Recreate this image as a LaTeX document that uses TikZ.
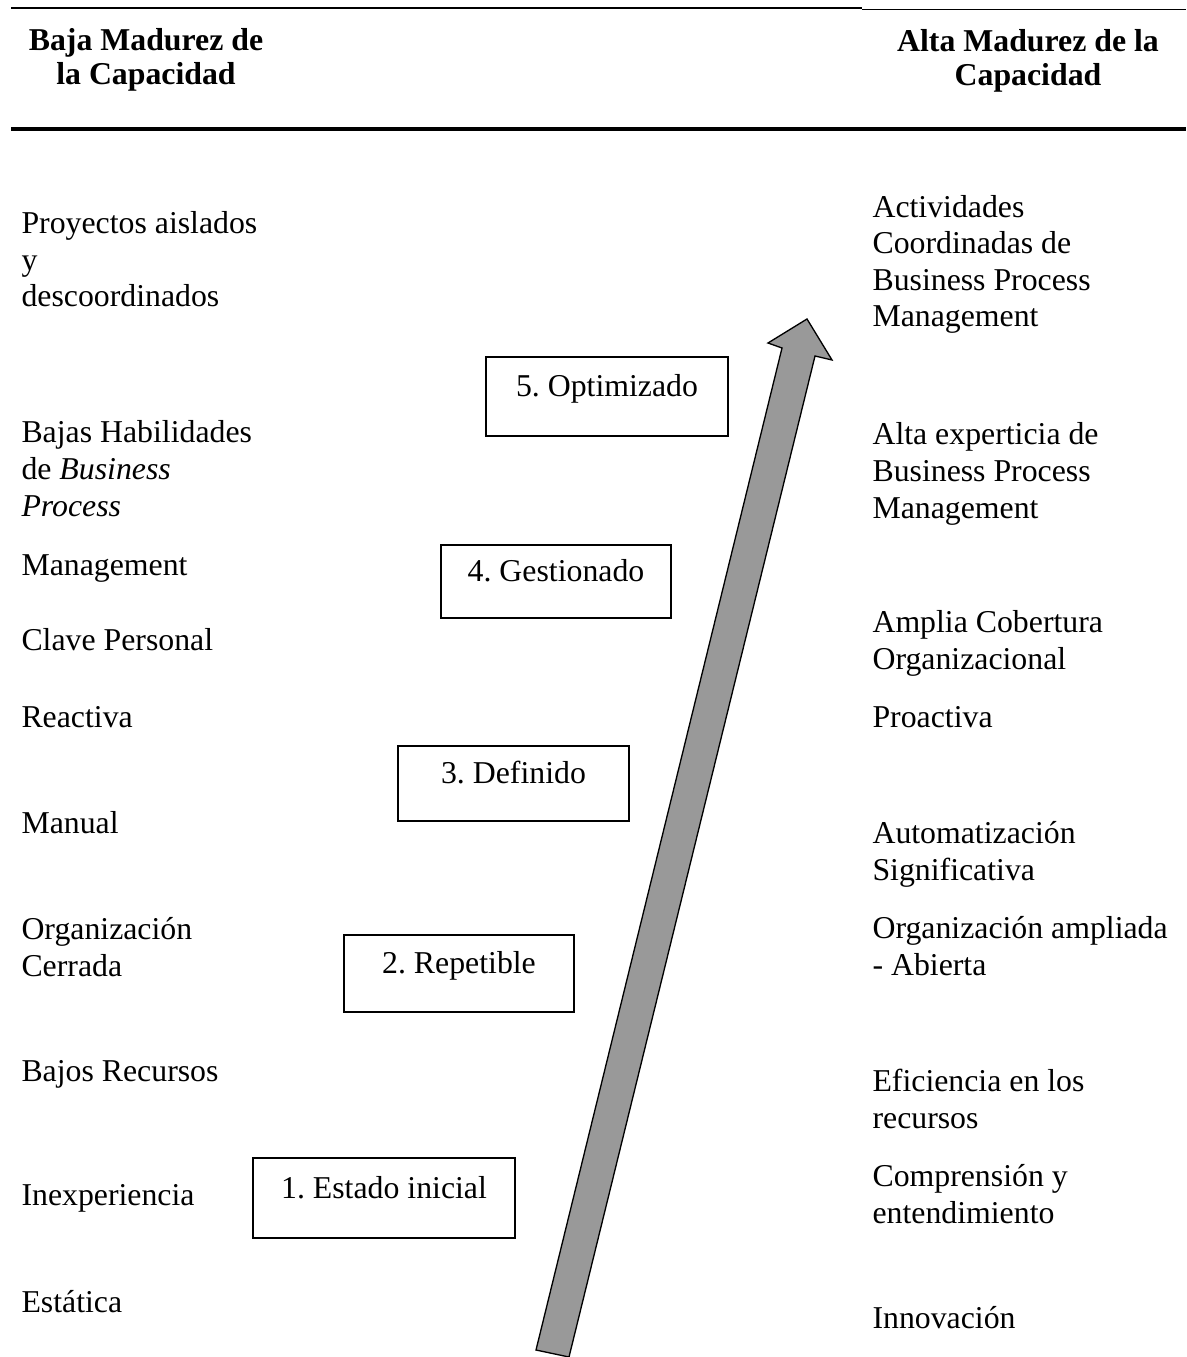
\documentclass[tikz,border=0pt]{standalone}
\usepackage{fontspec}
\setmainfont{Liberation Serif}
\frenchspacing
\begin{document}
\begin{tikzpicture}[x=0.3774pt, y=-0.3774pt,
    every node/.style={font=\fontsize{12}{13.8}\selectfont},
    item/.style={anchor=base west, align=left, inner sep=0pt},
    hdr/.style={anchor=base, align=center, inner sep=0pt,
      font=\fontsize{12}{13.2}\selectfont\bfseries},
    nivel/.style={draw, line width=0.8pt, inner sep=0pt,
      text height=8.5pt, text depth=8.5pt}]
    \useasboundingbox (0,0) rectangle (1186,1357);

    % Header rules
    \draw[line width=0.75pt] (11,7.7) -- (862,7.7);
    \draw[line width=0.65pt] (862,9.5) -- (1186,9.5);
    \draw[line width=1.15pt] (11,129) -- (1186,129);

    % Headers (base = last line)
    \node[hdr] (baja) at (146,85) {Baja Madurez de\\la Capacidad};
    \node[hdr] (alta) at (1028,86) {Alta Madurez de la\\Capacidad};

    % Low maturity traits
    \node[item] (l1) at (21,307) {Proyectos aislados\\y\\descoordinados};
    \node[item] (l2) at (21,516) {Bajas Habilidades\\de \textit{Business}\\\textit{Process}};
    \node[item] (l3) at (21,575) {Management};
    \node[item] (l4) at (21,650) {Clave Personal};
    \node[item] (l5) at (21,727) {Reactiva};
    \node[item] (l6) at (21,833) {Manual};
    \node[item] (l7) at (21,976) {Organización\\Cerrada};
    \node[item] (l8) at (21,1081) {Bajos Recursos};
    \node[item] (l9) at (21,1205) {Inexperiencia};
    \node[item] (l10) at (21,1312) {Estática};

    % High maturity traits
    \node[item] (r1) at (872,327) {Actividades\\Coordinadas de\\Business Process\\Management};
    \node[item] (r2) at (872,518) {Alta experticia de\\Business Process\\Management};
    \node[item] (r3) at (872,669.5) {Amplia Cobertura\\Organizacional};
    \node[item] (r4) at (872,727) {Proactiva};
    \node[item] (r5) at (872,880.5) {Automatización\\Significativa};
    \node[item] (r6) at (872,975) {Organización ampliada\\- Abierta};
    \node[item] (r7) at (872,1128.5) {Eficiencia en los\\recursos};
    \node[item] (r8) at (872,1223.5) {Comprensión y\\entendimiento};
    \node[item] (r9) at (872,1328) {Innovación};

    % Maturity levels
    \node[nivel, minimum width=262*0.3774pt, minimum height=80*0.3774pt] (n1) at (384,1198) {1. Estado inicial};
    \node[nivel, minimum width=230*0.3774pt, minimum height=77*0.3774pt] (n2) at (459,973.5) {2. Repetible};
    \node[nivel, minimum width=231*0.3774pt, minimum height=75*0.3774pt] (n3) at (513.5,783.5) {3. Definido};
    \node[nivel, minimum width=230*0.3774pt, minimum height=73*0.3774pt] (n4) at (556,581.5) {4. Gestionado};
    \node[nivel, minimum width=242*0.3774pt, minimum height=79*0.3774pt] (n5) at (607,396.5) {5. Optimizado};

    % Big arrow
    \draw[fill=black!40, line width=0.5pt, line join=miter]
      (536,1350) -- (782,348) -- (768,343) -- (807,319) -- (832,360)
      -- (815,356) -- (569,1357) -- cycle;
\end{tikzpicture}
\end{document}
